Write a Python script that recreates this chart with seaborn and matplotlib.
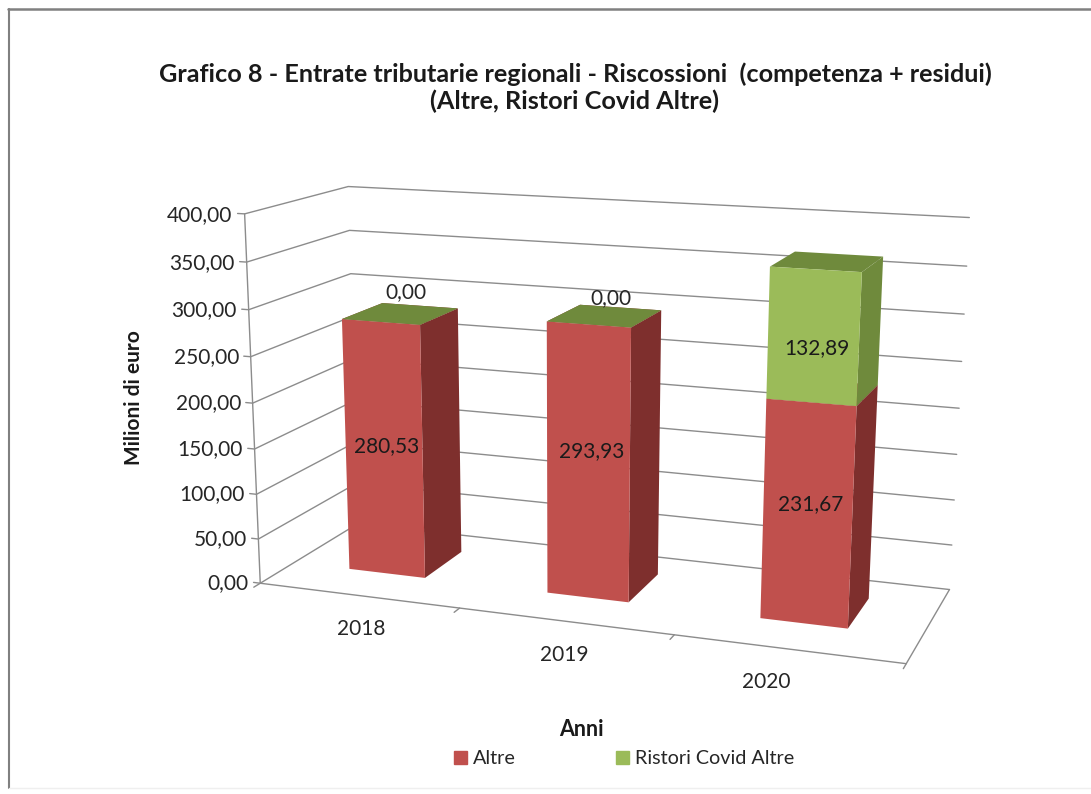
import numpy as np
import matplotlib
matplotlib.use("Agg")
import matplotlib.pyplot as plt
from matplotlib.lines import Line2D
from matplotlib.patches import Patch
from mpl_toolkits.mplot3d import Axes3D  # noqa
import seaborn as sns

# ---- data ----
years = ["2018", "2019", "2020"]
altre = [280.53, 293.93, 231.67]
ristori = [0.00, 0.00, 132.89]
value_ticks = [0, 50, 100, 150, 200, 250, 300, 350, 400]
series_names = ["Altre", "Ristori Covid Altre"]

W, H = 1091, 794
sns.set_theme(style="white")
plt.rcParams["font.family"] = ["Lato", "DejaVu Sans"]

fig = plt.figure(figsize=(W / 100, H / 100), dpi=100, facecolor="white")
side = W / H
ax = fig.add_axes([0, -(side - 1) / 2, 1, side], projection="3d", computed_zorder=False)
ax.set_axis_off()
ax.patch.set_alpha(0)
ax.set_proj_type("ortho")  # no clipping of lines; the camera below supplies the perspective

# ---- camera: world (category, depth, value) -> picture pixels, from frame corners ----
world = np.array([[0, 0, 0], [3, 0, 0], [0, 1, 0], [3, 1, 0],
                  [0, 0, 400], [0, 1, 400], [3, 1, 400]], float)
pixels = np.array([[262, 581], [906, 666], [356, 526], [950, 587],
                   [243, 214], [350, 186], [969, 218]], float)
rows = []
for (x, y, z), (u, v) in zip(world, pixels):
    z_ = z / 400
    rows.append([x, y, z_, 1, 0, 0, 0, 0, -u * x, -u * y, -u * z_, -u])
    rows.append([0, 0, 0, 0, x, y, z_, 1, -v * x, -v * y, -v * z_, -v])
P = np.linalg.svd(np.array(rows))[2][-1].reshape(3, 4)
P[:, 2] /= 400
if (P[2] @ [1.5, .5, 200, 1]) < 0:
    P = -P
depth_row = np.array([-0.1, 1.0, -0.0005, 0.0]) * (P[2] @ [1.5, .5, 200, 1])


def camera():
    inv = ax.transData.inverted()
    (u0, v0), (u1, v1) = inv.transform([(0, 0), (W, H)])
    su, sv = (u1 - u0) / W, (v1 - v0) / H
    return np.array([u0 * P[2] + su * P[0],
                     (v0 + sv * H) * P[2] - sv * P[1],
                     depth_row + 1e-3 * P[2],
                     P[2]])


ax.get_proj = camera


def label(x, y, z, s, **kw):
    """Place a text at a world point, through the same camera as the bars."""
    p = P @ np.array([x, y, z, 1.0])
    return fig.text(p[0] / p[2] / W, 1 - p[1] / p[2] / H, s, zorder=10, **kw)


# ---- frame ----
GRID = "#8c8c8c"
TXT = "#262626"
n = len(years)
top = value_ticks[-1]
for v in value_ticks:
    ax.plot([-0.035, 0, 0, n], [0, 0, 1, 1], [v, v, v, v], color=GRID, lw=1.0, zorder=1)
    label(-0.06, 0, v - 1.5, f"{v:.2f}".replace(".", ","), ha="right", va="center",
          fontsize=15, color=TXT)
ax.plot([0, 0], [0, 0], [0, top], color=GRID, lw=1.0, zorder=1)
ax.plot([0, n, n], [0, 0, 1], [0, 0, 0], color=GRID, lw=1.0, zorder=1)
for i in range(n + 1):
    ax.plot([i, i], [0, -0.06], [0, 0], color=GRID, lw=1.0, zorder=1)
label_dx = [0.21, 0.145, 0.01]
for i, y in enumerate(years):
    label(i + 0.5 + label_dx[i], -0.39, 0, y, ha="center", va="center", fontsize=15, color=TXT)

# ---- bars ----
RED = dict(front="#C0504D", top="#8f3b38", side="#7E2F2D")
GREEN = dict(front="#9BBB59", top="#6F8A3C", side="#6F8A3C")
NONE = (0, 0, 0, 0)
bar_off, bar_w = 0.29, 0.39
bar_y0, bar_d = 0.33, 0.42
altre_label_dz = [4, 14, 11]
ristori_label_dz = -11
zero_label_dz = [24, 19]


def faces(c):
    # -z, +z, -y, +y, -x, +x
    return [NONE, c["top"], c["front"], NONE, NONE, c["side"]]


for i in range(n):
    x0 = i + bar_off
    xc = x0 + bar_w / 2 + 0.015
    base = 0
    for vals, c in ((altre, RED), (ristori, GREEN)):
        poly = ax.bar3d(x0, bar_y0, base, bar_w, bar_d, vals[i], color=faces(c), shade=False,
                        edgecolor="none", linewidth=0)
        poly.set_zorder(5 + i)
        base += vals[i]
    label(xc, bar_y0, altre[i] / 2 + altre_label_dz[i], f"{altre[i]:.2f}".replace(".", ","),
          ha="center", va="center", fontsize=15, color="#1a1a1a")
    if ristori[i] > 0:
        label(xc, bar_y0, altre[i] + ristori[i] / 2 + ristori_label_dz,
              f"{ristori[i]:.2f}".replace(".", ","),
              ha="center", va="center", fontsize=15, color="#1a1a1a")
    else:
        label(xc + 0.015, bar_y0 + bar_d / 2, altre[i] + zero_label_dz[i],
              f"{ristori[i]:.2f}".replace(".", ","),
              ha="center", va="center", fontsize=15, color=TXT)

# ---- titles, legend, border ----
fig.text(575 / W, 1 - 88 / H, "Grafico 8 - Entrate tributarie regionali - Riscossioni  (competenza + residui)\n"
         "(Altre, Ristori Covid Altre)", ha="center", va="center", fontsize=18.15,
         fontweight="bold", color="#1a1a1a", linespacing=1.18)
fig.text(134 / W, 1 - 398 / H, "Milioni di euro", rotation=90, ha="center", va="center",
         fontsize=15, fontweight="bold", color="#1a1a1a")
fig.text(581 / W, 1 - 730 / H, "Anni", ha="center", va="center", fontsize=15.5,
         fontweight="bold", color="#1a1a1a")
fig.legend(handles=[Patch(color=RED["front"], label=series_names[0]),
                    Patch(color=GREEN["front"], label=series_names[1])],
           loc="center", bbox_to_anchor=(624 / W, 1 - 759 / H), ncol=2, frameon=False,
           fontsize=14.2, handlelength=0.65, handleheight=0.65, handletextpad=0.3,
           columnspacing=5.1, labelcolor=TXT)
# chart border: top and left show in the picture, the bottom only faintly
for xs, ys, col, lw in (([8, W], [9, 9], "#808080", 1.8),
                        ([9, 9], [9, 788], "#808080", 1.5),
                        ([9, W], [788, 788], "#efefef", 1.0)):
    fig.add_artist(Line2D([a / W for a in xs], [1 - b / H for b in ys], color=col, lw=lw,
                          transform=fig.transFigure))

fig.savefig("out.png", dpi=100)
